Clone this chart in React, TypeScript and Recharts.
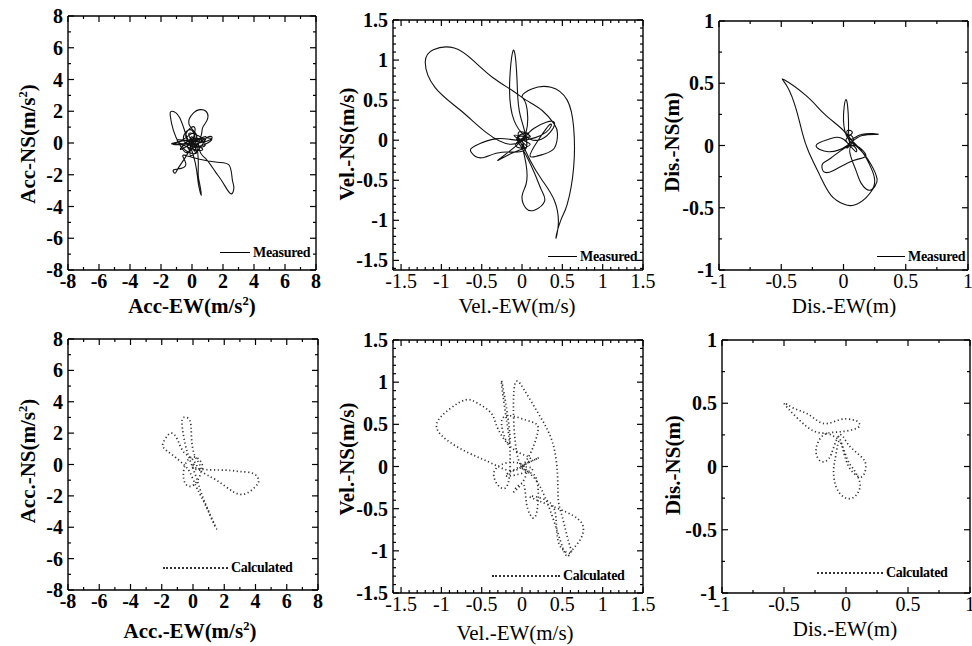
import React from 'react';
import { LineChart, Line, XAxis, YAxis } from 'recharts';

const FONT = '"Liberation Serif", "Times New Roman", serif';

// tick labels
const accMajor = [-8, -6, -4, -2, 0, 2, 4, 6, 8];
const velMajor = [-1.5, -1, -0.5, 0, 0.5, 1, 1.5];
const disMajor = [-1, -0.5, 0, 0.5, 1];

// measured orbits (EW, NS)
const accMeasuredEW = [0, 0.3, -0.2, 0.1, 0.5, 0.9, 1.0, 0.7, 0.6, 0.2, -0.3, -0.8, -1.3, -1.4, -1.2, -0.8, -0.4, 0.1, 1.1, 0.9, -1.1, -0.6, 0.2, 0.5, 0.9, 1.5, 2.0, 2.5, 2.7, 2.6, 2.4, 1.5, 0.0, -0.6, -0.4, -0.7, -1.2, -1.1, -0.9, -0.3, 0.2, 0.4, 0.4, 0.5, 0.6, 0.4, 0.2, -0.3, -0.2, 0.3, 0.8, -0.5, 0.0, 0.2, -0.1, 0.4, 0.5, -0.6, 0.3, -0.2, 0.8, -0.9, 0.1, 0.6, -0.4, 0.2, -0.1, 0.9, -0.7, 0.0, 0.3, 1.2, -1.2, 0.0];
const accMeasuredNS = [0, 0.5, 1.2, 1.9, 2.1, 2.0, 1.5, 1.0, 0.5, -0.2, 0.3, 1.6, 2.0, 1.7, 0.8, -0.1, -0.6, -0.3, 0.4, 0.1, -0.1, 0.2, 0.6, -0.5, -1.0, -1.8, -2.5, -3.2, -2.8, -2.3, -1.4, -1.2, -0.9, -0.8, -1.3, -1.6, -1.7, -1.9, -1.6, -0.7, 0.0, -1.0, -2.0, -2.6, -3.3, -2.5, -1.2, 0.2, -0.4, 0.2, -0.2, 0.1, 0.8, -0.5, 0.3, 0.2, 0.3, -0.2, -0.6, 0.6, 0.1, 0.2, -0.4, -0.3, 0.4, 0.9, -0.8, 0.4, -0.4, 0.3, -0.2, 0.3, 0.0, 0.0];

const velMeasuredEW = [0, 0.05, -0.05, 0.1, -0.1, -0.3, -0.05, 0.15, 0.4, 0.2, -0.1, -0.15, -0.1, -0.06, -0.02, 0.05, -0.25, -0.5, -0.63, -0.58, -0.3, 0.0, 0.3, 0.35, 0.2, 0.1, 0.25, 0.4, 0.44, 0.4, 0.25, 0.05, -0.12, -0.36, -0.6, -0.84, -1.1, -1.2, -1.08, -0.76, -0.45, -0.15, 0.05, 0.05, 0.0, 0.12, 0.36, 0.56, 0.64, 0.64, 0.56, 0.48, 0.42, 0.45, 0.4, 0.25, 0.1, 0.0, 0.05, 0.05, 0.0, 0.05, 0.16, 0.28, 0.24, 0.15, 0.0, -0.05, 0.08, -0.08, 0.06, -0.1, 0.1, -0.04, 0.02, 0];
const velMeasuredNS = [0, 0.05, 0.03, -0.05, -0.15, -0.25, -0.05, 0.15, 0.22, 0.0, 0.25, 0.8, 1.12, 0.7, 0.3, -0.1, -0.15, -0.22, -0.15, -0.07, 0.02, 0.0, 0.1, 0.2, 0.0, -0.2, -0.18, -0.1, 0.08, 0.2, 0.37, 0.5, 0.62, 0.78, 0.99, 1.15, 1.13, 0.97, 0.66, 0.37, 0.1, -0.05, 0.1, 0.45, 0.55, 0.64, 0.66, 0.5, 0.16, -0.34, -0.8, -1.0, -1.22, -1.05, -0.75, -0.5, -0.25, -0.05, -0.3, -0.55, -0.7, -0.85, -0.87, -0.76, -0.62, -0.4, -0.1, 0.05, 0.08, -0.06, -0.08, 0.06, 0.04, 0.1, -0.1, 0];

const disMeasuredEW = [0.05, 0.0, -0.15, -0.3, -0.48, -0.45, -0.38, -0.33, -0.28, -0.19, -0.1, 0.0, 0.08, 0.18, 0.25, 0.27, 0.22, 0.12, 0.04, 0.0, 0.02, 0.04, 0.05, 0.15, 0.28, 0.15, 0.03, -0.12, -0.22, -0.12, 0.0, 0.1, 0.06, -0.1, -0.17, -0.16, -0.08, 0.08, 0.18, 0.1, 0.05, 0.1, 0.14, 0.21, 0.25, 0.23, 0.15, 0.06, 0.03, 0.07, 0.02, 0.09, 0.04, 0.08, 0.03, 0.06];
const disMeasuredNS = [0.02, 0.12, 0.25, 0.4, 0.53, 0.47, 0.29, 0.1, -0.05, -0.24, -0.4, -0.47, -0.48, -0.42, -0.33, -0.27, -0.15, -0.02, 0.05, 0.2, 0.37, 0.2, 0.05, 0.09, 0.09, 0.08, 0.0, -0.05, 0.0, 0.05, 0.05, -0.05, 0.0, -0.1, -0.15, -0.21, -0.2, -0.12, -0.08, 0.0, -0.05, -0.2, -0.3, -0.36, -0.3, -0.2, -0.05, 0.05, 0.12, 0.1, 0.04, 0.0, 0.08, 0.05, -0.02, 0.03];

// calculated orbits (EW, NS)
const accCalcEW = [0, 0.5, 2.1, 3.0, 3.85, 4.2, 4.0, 3.4, 2.6, 1.5, 0.5, 0.0, -0.6, -1.0, -1.4, -1.8, -1.9, -1.3, -0.6, -0.2, 0.2, 0.5, 0.9, 1.2, 1.5, 1.1, 0.6, 0.2, -0.2, -0.5, -0.7, -0.6, -0.2, -0.1, 0.1, 0.5, 0.3, -0.2, -0.6, -0.4, 0.3, 0.6, 0.0, 0.2];
const accCalcNS = [0, -0.3, -0.36, -0.45, -0.57, -1.0, -1.4, -1.85, -1.75, -1.0, -0.4, 0.3, 0.8, 1.6, 2.0, 1.6, 1.1, 0.6, 0.0, -0.5, -1.4, -2.0, -2.8, -3.5, -4.1, -3.2, -2.0, -0.8, 0.3, 1.3, 2.5, 3.0, 2.8, 1.8, 0.6, -0.2, -1.0, -1.4, -0.9, 0.2, 0.4, -0.3, -0.2, 0.1];

const velCalcEW = [0, 0.1, -0.1, -0.3, -0.38, -0.55, -0.7, -0.9, -1.06, -0.94, -0.66, -0.38, -0.1, 0.1, 0.2, 0.05, -0.25, -0.15, -0.25, -0.2, -0.15, -0.2, -0.35, -0.1, 0.05, -0.1, 0.0, 0.05, 0.1, 0.16, 0.2, 0.15, -0.05, -0.1, 0.02, 0.22, 0.38, 0.44, 0.45, 0.5, 0.58, 0.6, 0.46, 0.42, 0.3, 0.1, 0.45, 0.74, 0.72, 0.6, 0.5, 0.2, 0.0, 0.2, -0.2, 0.1, 0];
const velCalcNS = [0, 0.1, 0.2, 0.45, 0.63, 0.75, 0.79, 0.68, 0.5, 0.32, 0.16, 0.04, -0.05, 0.15, 0.45, 0.55, 0.55, 0.3, 1.0, 0.6, 0.2, -0.25, -0.08, 0.05, -0.1, -0.3, -0.2, -0.4, -0.57, -0.6, -0.4, -0.1, 0.1, 0.9, 0.92, 0.6, 0.28, -0.1, -0.4, -0.6, -0.9, -1.03, -0.92, -0.6, -0.4, -0.36, -0.5, -0.67, -0.87, -1.02, -0.95, -0.2, 0.0, 0.1, -0.1, -0.05, 0];

const disCalcEW = [-0.07, -0.15, -0.26, -0.4, -0.5, -0.42, -0.3, -0.18, -0.05, 0.05, 0.1, 0.1, 0.0, -0.1, -0.18, -0.23, -0.24, -0.2, -0.14, -0.1, -0.05, 0.0, 0.05, 0.12, 0.16, 0.13, 0.06, 0.0, -0.05, -0.08, -0.1, -0.08, -0.02, 0.05, 0.1, 0.11, 0.06, 0.01, -0.05, -0.07];
const disCalcNS = [0.22, 0.26, 0.28, 0.39, 0.5, 0.46, 0.41, 0.34, 0.37, 0.37, 0.35, 0.31, 0.28, 0.27, 0.25, 0.18, 0.1, 0.04, 0.06, 0.15, 0.25, 0.2, 0.14, 0.08, 0.01, -0.08, -0.05, 0.05, 0.2, 0.1, -0.03, -0.16, -0.24, -0.25, -0.2, -0.12, -0.02, 0.06, 0.22, 0.22];

// minor tick positions along an axis
const steps = (from: number, to: number, step: number) => {
  const out: number[] = [];
  for (let v = from; v <= to + 1e-9; v += step) out.push(Math.round(v * 1000) / 1000);
  return out;
};

const isMajor = (majors: number[], v: number) => majors.some((m) => Math.abs(m - v) < 1e-6);

const tickText = (bold: boolean) => ({
  fontFamily: FONT,
  fontSize: 20,
  fontWeight: bold ? 'bold' : 'normal',
  fill: '#000',
});

const bottomTick = (majors: number[], bold: boolean) => (p: any) => {
  const v = p.payload.value;
  const major = isMajor(majors, v);
  return (
    <g>
      <line x1={p.x} x2={p.x} y1={p.y} y2={p.y - (major ? 6 : 3)} stroke="#000" strokeWidth={1.2} />
      {major && (
        <text x={p.x} y={p.y + 18} textAnchor="middle" {...tickText(bold)}>
          {String(v)}
        </text>
      )}
    </g>
  );
};

const topTick = (majors: number[]) => (p: any) => {
  const major = isMajor(majors, p.payload.value);
  return <line x1={p.x} x2={p.x} y1={p.y} y2={p.y + (major ? 6 : 3)} stroke="#000" strokeWidth={1.2} />;
};

const leftTick = (majors: number[]) => (p: any) => {
  const v = p.payload.value;
  const major = isMajor(majors, v);
  return (
    <g>
      <line x1={p.x} x2={p.x + (major ? 6 : 3)} y1={p.y} y2={p.y} stroke="#000" strokeWidth={1.2} />
      {major && (
        <text x={p.x - 5} y={p.y + 7} textAnchor="end" {...tickText(true)}>
          {String(v)}
        </text>
      )}
    </g>
  );
};

const rightTick = (majors: number[]) => (p: any) => {
  const major = isMajor(majors, p.payload.value);
  return <line x1={p.x} x2={p.x - (major ? 6 : 3)} y1={p.y} y2={p.y} stroke="#000" strokeWidth={1.2} />;
};

type PanelCfg = {
  frame: { x: number; y: number; w: number; h: number };
  xDomain: [number, number];
  yDomain: [number, number];
  xMajor: number[];
  yMajor: number[];
  xTicks: number[];
  yTicks: number[];
  ew: number[];
  ns: number[];
  dotted: boolean;
  boldX: boolean;
};

const axisLine = { stroke: '#000', strokeWidth: 1.4 };

function Panel({ cfg }: { cfg: PanelCfg }) {
  const { frame } = cfg;
  const rows = cfg.ew.map((x, i) => ({ x, y: cfg.ns[i] }));
  const W = frame.w + 100;
  const H = frame.h + 50;
  return (
    <div style={{ position: 'absolute', left: frame.x - 70, top: frame.y - 10, width: W, height: H }}>
      <LineChart width={W} height={H} data={rows} margin={{ top: 9, right: 29, left: 10, bottom: 10 }}>
        <XAxis
          xAxisId="b"
          type="number"
          dataKey="x"
          domain={cfg.xDomain}
          allowDataOverflow
          ticks={cfg.xTicks}
          interval={0}
          height={30}
          tickSize={0}
          tickMargin={0}
          tickLine={false}
          axisLine={axisLine}
          tick={bottomTick(cfg.xMajor, cfg.boldX)}
        />
        <XAxis
          xAxisId="t"
          orientation="top"
          type="number"
          dataKey="x"
          domain={cfg.xDomain}
          allowDataOverflow
          ticks={cfg.xTicks}
          interval={0}
          height={1}
          tickSize={0}
          tickMargin={0}
          tickLine={false}
          axisLine={axisLine}
          tick={topTick(cfg.xMajor)}
        />
        <YAxis
          yAxisId="l"
          type="number"
          domain={cfg.yDomain}
          allowDataOverflow
          ticks={cfg.yTicks}
          interval={0}
          width={60}
          tickSize={0}
          tickMargin={0}
          tickLine={false}
          axisLine={axisLine}
          tick={leftTick(cfg.yMajor)}
        />
        <YAxis
          yAxisId="r"
          orientation="right"
          type="number"
          domain={cfg.yDomain}
          allowDataOverflow
          ticks={cfg.yTicks}
          interval={0}
          width={1}
          tickSize={0}
          tickMargin={0}
          tickLine={false}
          axisLine={axisLine}
          tick={rightTick(cfg.yMajor)}
        />
        <Line
          xAxisId="b"
          yAxisId="l"
          dataKey="y"
          type="natural"
          dot={false}
          stroke={cfg.dotted ? '#333' : '#111'}
          strokeWidth={cfg.dotted ? 1.7 : 1.1}
          strokeDasharray={cfg.dotted ? '1.2 2.6' : undefined}
          isAnimationActive={false}
        />
      </LineChart>
    </div>
  );
}

const accTicks = steps(-8, 8, 1);
const velTicks = steps(-1.6, 1.5, 0.1);
const velTicksY = steps(-1.5, 1.5, 0.1);
const disTicks = steps(-1, 1, 0.25);

const panels: PanelCfg[] = [
  { frame: { x: 68, y: 16, w: 248, h: 254 }, xDomain: [-8, 8], yDomain: [-8, 8], xMajor: accMajor, yMajor: accMajor, xTicks: accTicks, yTicks: accTicks, ew: accMeasuredEW, ns: accMeasuredNS, dotted: false, boldX: true },
  { frame: { x: 393, y: 20, w: 250, h: 250 }, xDomain: [-1.6, 1.5], yDomain: [-1.62, 1.5], xMajor: velMajor, yMajor: velMajor, xTicks: velTicks, yTicks: velTicks, ew: velMeasuredEW, ns: velMeasuredNS, dotted: false, boldX: false },
  { frame: { x: 719, y: 21, w: 249, h: 249 }, xDomain: [-1, 1], yDomain: [-1, 1], xMajor: disMajor, yMajor: disMajor, xTicks: disTicks, yTicks: disTicks, ew: disMeasuredEW, ns: disMeasuredNS, dotted: false, boldX: false },
  { frame: { x: 68, y: 339, w: 250, h: 251 }, xDomain: [-8, 8], yDomain: [-8, 8], xMajor: accMajor, yMajor: accMajor, xTicks: accTicks, yTicks: accTicks, ew: accCalcEW, ns: accCalcNS, dotted: true, boldX: true },
  { frame: { x: 393, y: 340, w: 250, h: 253 }, xDomain: [-1.6, 1.5], yDomain: [-1.5, 1.5], xMajor: velMajor, yMajor: velMajor, xTicks: velTicks, yTicks: velTicksY, ew: velCalcEW, ns: velCalcNS, dotted: true, boldX: false },
  { frame: { x: 722, y: 340, w: 248, h: 253 }, xDomain: [-1, 1], yDomain: [-1, 1], xMajor: disMajor, yMajor: disMajor, xTicks: disTicks, yTicks: disTicks, ew: disCalcEW, ns: disCalcNS, dotted: true, boldX: false },
];

const sq = <sup style={{ fontSize: '0.6em', lineHeight: 0, verticalAlign: '0.6em' }}>2</sup>;

const yTitles = [
  { text: <>Acc-NS(m/s{sq})</>, x: 28, y: 144 },
  { text: <>Vel.-NS(m/s)</>, x: 347, y: 144 },
  { text: <>Dis.-NS(m)</>, x: 672, y: 142 },
  { text: <>Acc.-NS(m/s{sq})</>, x: 28, y: 461 },
  { text: <>Vel.-NS(m/s)</>, x: 347, y: 459 },
  { text: <>Dis.-NS(m)</>, x: 673, y: 465 },
];

const xTitles = [
  { text: <>Acc-EW(m/s{sq})</>, x: 192, y: 306, bold: true },
  { text: <>Vel.-EW(m/s)</>, x: 517, y: 306, bold: false },
  { text: <>Dis.-EW(m)</>, x: 844, y: 306, bold: false },
  { text: <>Acc.-EW(m/s{sq})</>, x: 190, y: 631, bold: true },
  { text: <>Vel.-EW(m/s)</>, x: 515, y: 633, bold: false },
  { text: <>Dis.-EW(m)</>, x: 845, y: 629, bold: false },
];

const legends = [
  { label: 'Measured', x1: 220, x2: 250, y: 253, dotted: false },
  { label: 'Measured', x1: 548, x2: 577, y: 257, dotted: false },
  { label: 'Measured', x1: 877, x2: 905, y: 257, dotted: false },
  { label: 'Calculated', x1: 163, x2: 228, y: 568, dotted: true },
  { label: 'Calculated', x1: 492, x2: 560, y: 576, dotted: true },
  { label: 'Calculated', x1: 817, x2: 883, y: 573, dotted: true },
];

export default function App() {
  return (
    <div
      style={{
        position: 'absolute',
        left: 0,
        top: 0,
        width: 972,
        height: 646,
        overflow: 'hidden',
        background: '#fff',
        fontFamily: FONT,
        color: '#000',
      }}
    >
      {panels.map((p, i) => (
        <Panel key={i} cfg={p} />
      ))}

      {yTitles.map((t, i) => (
        <div
          key={'y' + i}
          style={{
            position: 'absolute',
            left: t.x,
            top: t.y,
            transform: 'translate(-50%, -50%) rotate(-90deg)',
            whiteSpace: 'nowrap',
            fontSize: 21,
            fontWeight: 'bold',
            lineHeight: 1,
          }}
        >
          {t.text}
        </div>
      ))}

      {xTitles.map((t, i) => (
        <div
          key={'x' + i}
          style={{
            position: 'absolute',
            left: t.x,
            top: t.y,
            transform: 'translate(-50%, -50%)',
            whiteSpace: 'nowrap',
            fontSize: 21,
            fontWeight: t.bold ? 'bold' : 'normal',
            lineHeight: 1,
          }}
        >
          {t.text}
        </div>
      ))}

      {legends.map((l, i) => (
        <div key={'l' + i}>
          <div
            style={{
              position: 'absolute',
              left: l.x1,
              top: l.y - 1,
              width: l.x2 - l.x1,
              borderTop: l.dotted ? '2px dotted #333' : '1.5px solid #000',
            }}
          />
          <div
            style={{
              position: 'absolute',
              left: l.x2 + 3,
              top: l.y,
              transform: 'translateY(-50%)',
              fontSize: 14,
              fontWeight: 'bold',
              lineHeight: 1,
              whiteSpace: 'nowrap',
              letterSpacing: -0.3,
            }}
          >
            {l.label}
          </div>
        </div>
      ))}
    </div>
  );
}
